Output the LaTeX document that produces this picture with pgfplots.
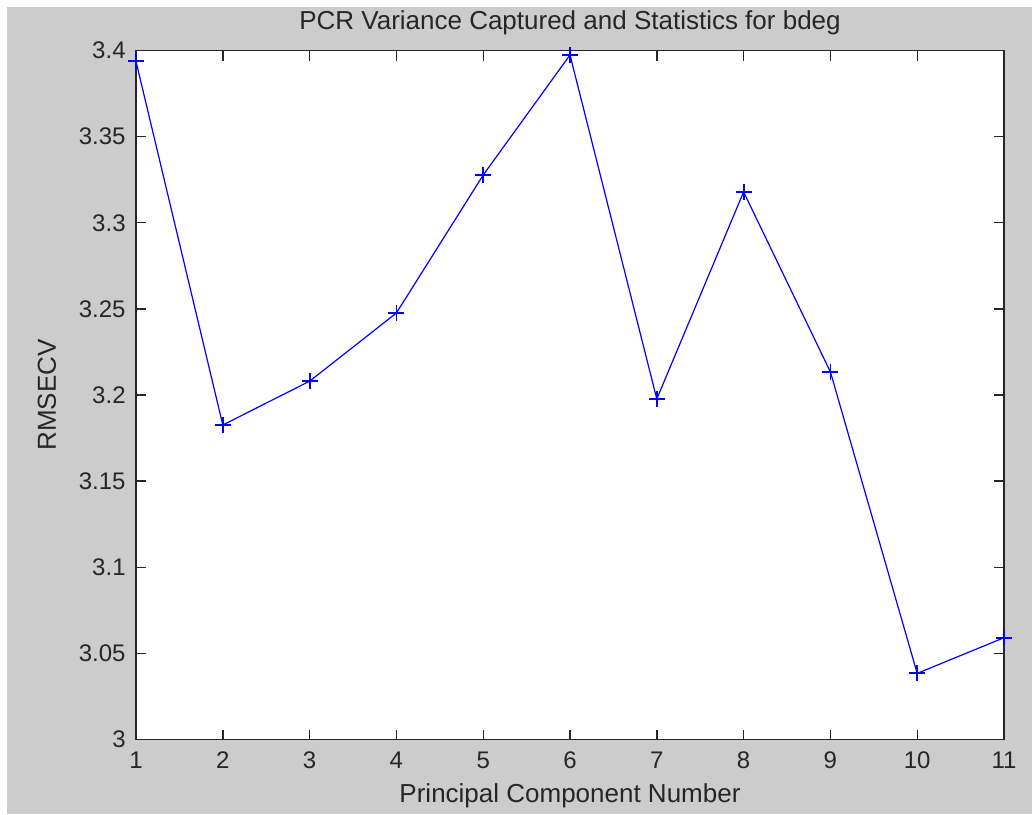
\documentclass[border=0pt]{standalone}
\usepackage{fontspec}
\setmainfont{Liberation Sans}
\usepackage{pgfplots}
\pgfplotsset{compat=1.18}
\definecolor{figbg}{RGB}{204,204,204}
\definecolor{axline}{RGB}{38,38,38}
\begin{document}
\begin{tikzpicture}
\fill[white] (-68pt,-37.25pt) rectangle (448pt,369.75pt);
\fill[figbg] (-64.5pt,-37.25pt) rectangle (448pt,366.25pt);
\begin{axis}[
  at={(0,0)}, anchor=south west,
  scale only axis, width=434pt, height=344.5pt,
  xmin=1, xmax=11, ymin=3, ymax=3.4,
  axis background/.style={fill=white},
  axis line style={axline, line width=0.8pt},
  every tick/.style={axline, line width=0.7pt},
  major tick length=5pt,
  tick align=inside,
  xtick={1,2,...,11},
  ytick={3,3.05,3.1,3.15,3.2,3.25,3.3,3.35,3.4},
  yticklabels={3,3.05,3.1,3.15,3.2,3.25,3.3,3.35,3.4},
  /pgf/number format/assume math mode=true,
  tick label style={font=\fontsize{12}{14}\selectfont, text=black!85, inner sep=0pt},
  yticklabel style={xshift=-5pt},
  xticklabel style={yshift=-6pt},
  every axis title shift=0pt,
  title={PCR Variance Captured and Statistics for bdeg},
  title style={font=\fontsize{13}{15}\selectfont, text=black!85, at={(axis description cs:0.5,1.0406)}, anchor=center, inner sep=0pt},
  xlabel={Principal Component Number},
  xlabel style={font=\fontsize{13}{15}\selectfont, text=black!85, at={(axis description cs:0.5,-0.0820)}, anchor=center, inner sep=0pt},
  ylabel={RMSECV},
  ylabel style={font=\fontsize{13}{15}\selectfont, text=black!85, at={(axis description cs:-0.1025,0.5)}, anchor=center, inner sep=0pt},
  clip=false,
]
\addplot[color=blue, line width=0.6pt, mark=+, mark size=4pt, mark options={draw=blue, line width=0.9pt}] coordinates {
  (1,3.3937) (2,3.1826) (3,3.2080) (4,3.2476) (5,3.3277) (6,3.3974)
  (7,3.1977) (8,3.3179) (9,3.2134) (10,3.0384) (11,3.0591)
};
\end{axis}
\end{tikzpicture}
\end{document}
